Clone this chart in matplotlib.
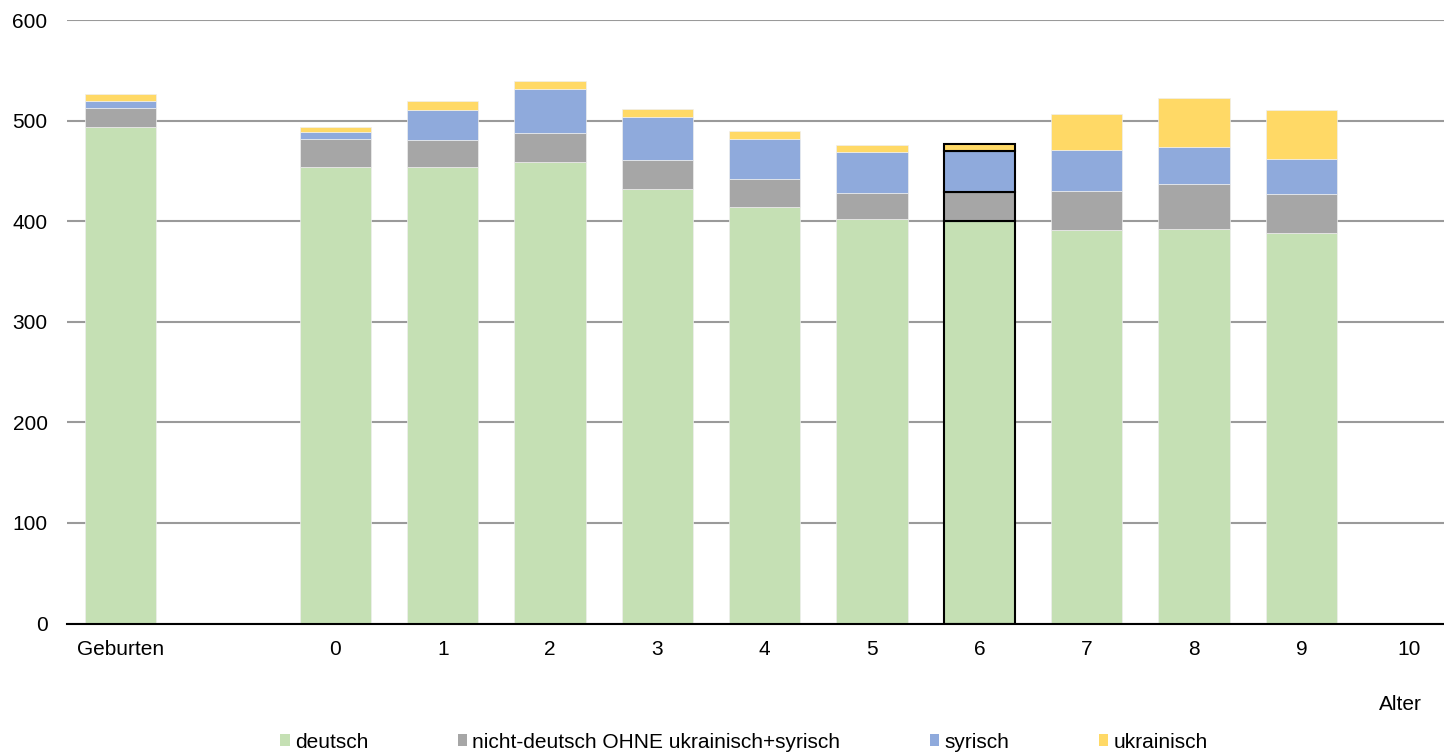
import numpy as np
import matplotlib.pyplot as plt
from matplotlib.patches import Patch

plt.rcParams['font.family'] = ['Liberation Sans', 'DejaVu Sans']

# Kategorien (zweiter Platz ist leer)
cats = ['Geburten', '', '0', '1', '2', '3', '4', '5', '6', '7', '8', '9', '10']
deutsch = [494, 0, 454, 454, 459, 432, 414, 402, 400, 391, 392, 388, 0]
nicht_deutsch = [19, 0, 28, 27, 29, 29, 28, 26, 29, 39, 45, 39, 0]
syrisch = [6, 0, 7, 30, 43, 43, 40, 41, 41, 41, 37, 35, 0]
ukrainisch = [7, 0, 5, 8, 8, 8, 8, 7, 7, 36, 48, 49, 0]
series_names = ['deutsch', 'nicht-deutsch OHNE ukrainisch+syrisch', 'syrisch', 'ukrainisch']
colors = ['#C5E0B4', '#A6A6A6', '#8FAADC', '#FFD966']
highlight = '6'

fig = plt.figure(figsize=(14.44, 7.53), dpi=100)
ax = fig.add_axes([67/1444, 1-623.5/753, 1-67/1444, (623.5-20)/753])

x = np.arange(len(cats))
bottom = np.zeros(len(cats))
for vals, col in zip([deutsch, nicht_deutsch, syrisch, ukrainisch], colors):
    vals = np.array(vals, dtype=float)
    ec = ['black' if c == highlight else '#EEEEEE' for c in cats]
    lw = [1.5 if c == highlight else 0.5 for c in cats]
    ax.bar(x, vals, bottom=bottom, width=0.664, color=col, edgecolor=ec, linewidth=lw, zorder=3)
    bottom += vals

ax.set_xlim(-0.5, (1444-120)/107.4)
ax.set_ylim(0, 600)
ax.set_yticks(np.arange(0, 601, 100))
ax.grid(axis='y', color='#9A9A9A', linewidth=1.5, zorder=0)
ax.set_xticks(x)
ax.set_xticklabels(cats)
ax.tick_params(axis='both', length=0, labelsize=15, colors='black')
ax.tick_params(axis='x', pad=12)
ax.tick_params(axis='y', pad=14)
for s in ['top', 'right', 'left']:
    ax.spines[s].set_visible(False)
ax.spines['bottom'].set_linewidth(1.5)
ax.spines['bottom'].set_zorder(4)

fig.text(1400/1444, 1-705/753, 'Alter', ha='center', va='center', fontsize=15)

handles = [Patch(facecolor=c, edgecolor='none') for c in colors]
fig.legend(handles, series_names, loc='center', bbox_to_anchor=(744/1444, 1-742/753),
           ncol=4, frameon=False, fontsize=15, handlelength=0.45, handleheight=0.45,
           handletextpad=0.25, columnspacing=4.3, borderpad=0)

fig.savefig('out.png', dpi=100)
